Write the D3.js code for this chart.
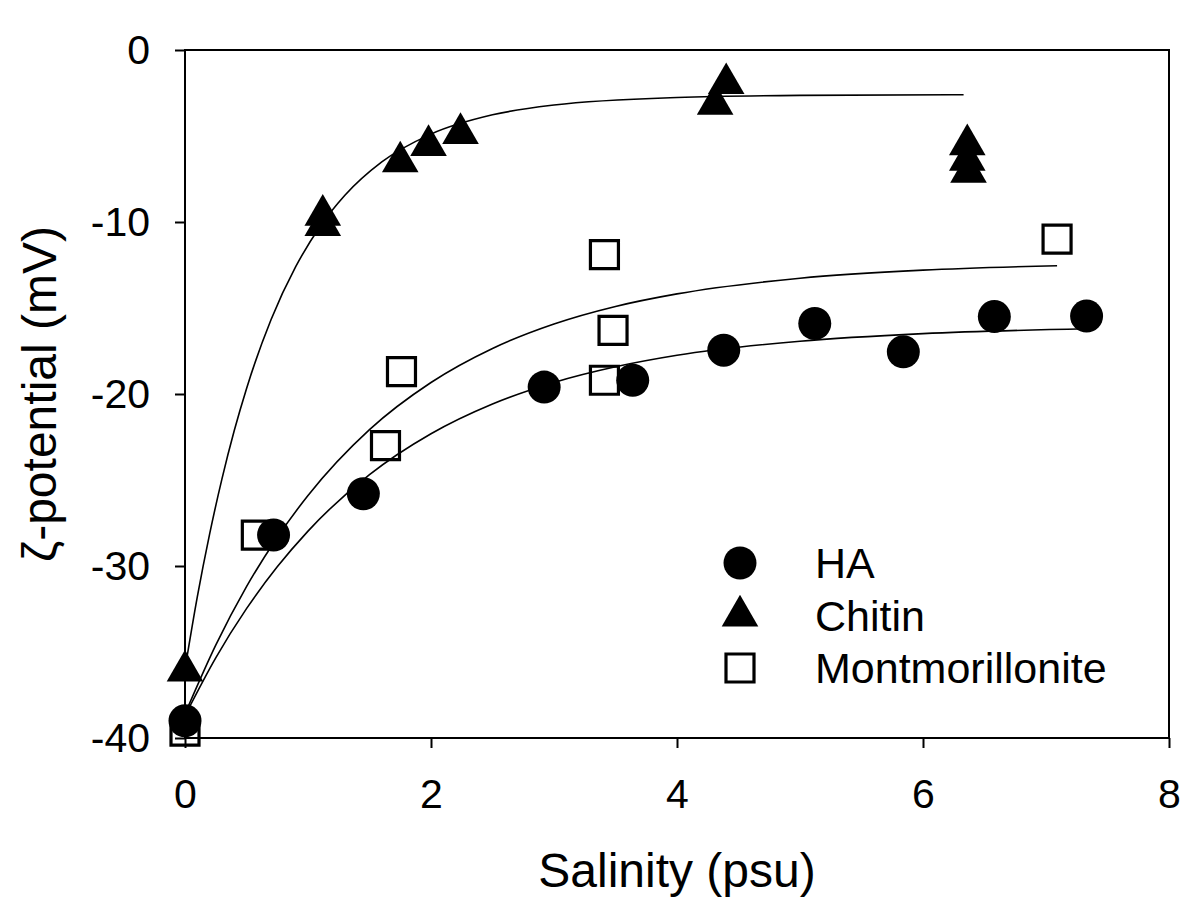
<!DOCTYPE html>
<html>
<head>
<meta charset="utf-8">
<script src="https://cdn.jsdelivr.net/npm/d3@7"></script>
<style>
  html, body { margin: 0; padding: 0; background: #fff; }
  svg { display: block; }
  text { font-family: "Liberation Sans", Arial, sans-serif; fill: #000; }
</style>
</head>
<body>
<svg id="chart" width="1200" height="922"></svg>
<script>
// ---- Data ----
const haX   = [0, 0.72, 1.45, 2.92, 3.64, 4.38, 5.12, 5.84, 6.58, 7.33];
const haY   = [-39.0, -28.2, -25.8, -19.6, -19.2, -17.45, -15.9, -17.55, -15.5, -15.47];

const chitinX = [0, 1.12, 1.12, 1.75, 1.98, 2.24, 4.31, 4.40, 6.36, 6.36, 6.37];
const chitinY = [-36.1, -9.6, -10.2, -6.5, -5.55, -4.85, -3.15, -1.95, -5.5, -6.4, -7.1];

const montX = [0, 0.58, 1.63, 1.76, 3.41, 3.41, 3.48, 7.09];
const montY = [-39.6, -28.2, -23.0, -18.7, -19.2, -11.9, -16.3, -11.0];

// fitted curves
const fitChitinX = [0, 0.1, 0.2, 0.3, 0.4, 0.5, 0.7, 0.9, 1.1, 1.3, 1.6, 2.0, 2.5, 3.0, 4.0, 5.0, 6.33];
const fitChitinY = [-36.0, -31.8, -28.15, -24.95, -22.14, -19.69, -15.67, -12.6, -10.25, -8.45, -6.51, -4.89, -3.77, -3.2, -2.76, -2.64, -2.6];

const fitHAX = [0, 0.25, 0.5, 0.75, 1.0, 1.5, 2.0, 2.5, 3.0, 3.5, 4.0, 5.0, 6.0, 7.33];
const fitHAY = [-38.7, -35.34, -32.48, -30.05, -27.97, -24.69, -22.31, -20.58, -19.33, -18.42, -17.75, -16.93, -16.49, -16.21];

const fitMontX = [0, 0.25, 0.5, 0.75, 1.0, 1.5, 2.0, 2.5, 3.0, 3.5, 4.0, 5.0, 6.0, 7.09];
const fitMontY = [-38.6, -34.6, -31.2, -28.34, -25.9, -22.07, -19.33, -17.35, -15.93, -14.91, -14.18, -13.27, -12.8, -12.54];

const xTicks = [0, 2, 4, 6, 8];
const xTickLabels = ["0", "2", "4", "6", "8"];
const yTicks = [0, -10, -20, -30, -40];
const yTickLabels = ["0", "-10", "-20", "-30", "-40"];

const seriesNames = ["HA", "Chitin", "Montmorillonite"];
const xTitle = "Salinity (psu)";
const yTitle = "\u03B6-potential (mV)";

// ---- Layout ----
const svg = d3.select("#chart");
const plotL = 185, plotR = 1169, plotT = 50, plotB = 738;
const x = d3.scaleLinear().domain([0, 8]).range([plotL, plotR]);
const y = d3.scaleLinear().domain([-40, 0]).range([plotB, plotT]);

const FONT = 41;
const LEGEND_FONT = 43;
const FAMILY = '"Liberation Sans", Arial, sans-serif';

// axes
const xAxis = d3.axisBottom(x).tickValues(xTicks)
  .tickFormat((d, i) => xTickLabels[i]).tickSize(10).tickSizeOuter(0).tickPadding(31);
const gx = svg.append("g").attr("transform", `translate(0,${plotB})`).call(xAxis);
gx.select(".domain").remove();
gx.selectAll(".tick line").attr("stroke", "#000").attr("stroke-width", 2);
gx.selectAll(".tick text").style("font-size", FONT + "px")
  .style("font-family", FAMILY).attr("fill", "#000");

const yAxis = d3.axisLeft(y).tickValues(yTicks)
  .tickFormat((d, i) => yTickLabels[i]).tickSize(10).tickSizeOuter(0).tickPadding(25);
const gy = svg.append("g").attr("transform", `translate(${plotL},0)`).call(yAxis);
gy.select(".domain").remove();
gy.selectAll(".tick line").attr("stroke", "#000").attr("stroke-width", 2);
gy.selectAll(".tick text").style("font-size", FONT + "px")
  .style("font-family", FAMILY).attr("fill", "#000");

// frame
svg.append("rect")
  .attr("x", plotL).attr("y", plotT)
  .attr("width", plotR - plotL).attr("height", plotB - plotT)
  .attr("fill", "none").attr("stroke", "#000").attr("stroke-width", 2);

// titles
svg.append("text")
  .attr("x", (plotL + plotR) / 2).attr("y", 887)
  .attr("text-anchor", "middle")
  .style("font-size", "48px")
  .text(xTitle);

svg.append("text")
  .attr("transform", `translate(56,${(plotT + plotB) / 2}) rotate(-90)`)
  .attr("text-anchor", "middle")
  .style("font-size", "48px")
  .text(yTitle);

// fit lines
const line = d3.line().x(d => x(d[0])).y(d => y(d[1])).curve(d3.curveMonotoneX);
const fits = [
  d3.zip(fitHAX, fitHAY),
  d3.zip(fitChitinX, fitChitinY),
  d3.zip(fitMontX, fitMontY)
];
svg.append("g").selectAll("path").data(fits).join("path")
  .attr("d", line)
  .attr("fill", "none").attr("stroke", "#000").attr("stroke-width", 1.6);

// markers
const sqSym = d3.symbol().type(d3.symbolSquare).size(784);
const circSym = d3.symbol().type(d3.symbolCircle).size(855);
const triSym = d3.symbol().type(d3.symbolTriangle).size(580);

svg.append("g").selectAll("path").data(d3.zip(montX, montY)).join("path")
  .attr("d", sqSym)
  .attr("transform", d => `translate(${x(d[0])},${y(d[1])})`)
  .attr("fill", "none").attr("stroke", "#000").attr("stroke-width", 3.2);

svg.append("g").selectAll("path").data(d3.zip(haX, haY)).join("path")
  .attr("d", circSym)
  .attr("transform", d => `translate(${x(d[0])},${y(d[1])})`)
  .attr("fill", "#000");

svg.append("g").selectAll("path").data(d3.zip(chitinX, chitinY)).join("path")
  .attr("d", triSym)
  .attr("transform", d => `translate(${x(d[0])},${y(d[1])})`)
  .attr("fill", "#000");

// legend
const legendX = 740, legendTextX = 815;
const legendY = [563, 616, 668];
const legendSyms = [
  { sym: circSym, fill: "#000", stroke: "none" },
  { sym: triSym, fill: "#000", stroke: "none" },
  { sym: sqSym, fill: "none", stroke: "#000" }
];
const lg = svg.append("g");
seriesNames.forEach((name, i) => {
  lg.append("path")
    .attr("d", legendSyms[i].sym)
    .attr("transform", `translate(${legendX},${legendY[i]})`)
    .attr("fill", legendSyms[i].fill)
    .attr("stroke", legendSyms[i].stroke)
    .attr("stroke-width", 3.2);
  lg.append("text")
    .attr("x", legendTextX).attr("y", legendY[i] + 15)
    .style("font-size", LEGEND_FONT + "px")
    .text(name);
});
</script>
</body>
</html>
